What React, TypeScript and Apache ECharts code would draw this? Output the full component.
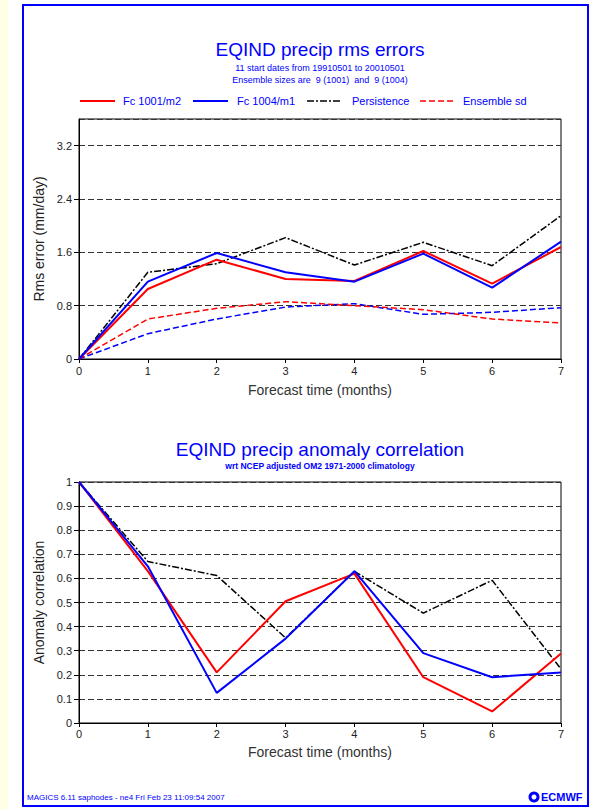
import React, { useEffect, useRef } from "react";
import * as echarts from "echarts";

const months = [0, 1, 2, 3, 4, 5, 6, 7];
const xTickLabels = ["0", "1", "2", "3", "4", "5", "6", "7"];

// Top chart: rms errors (mm/day)
const rmsFc1001 = [0, 1.05, 1.49, 1.2, 1.17, 1.62, 1.13, 1.68];
const rmsFc1004 = [0, 1.16, 1.59, 1.3, 1.16, 1.58, 1.07, 1.76];
const rmsPersistence = [0, 1.3, 1.43, 1.82, 1.41, 1.75, 1.4, 2.15];
const sd1001 = [0, 0.6, 0.76, 0.86, 0.8, 0.74, 0.6, 0.54];
const sd1004 = [0, 0.38, 0.6, 0.78, 0.83, 0.67, 0.7, 0.77];

// Bottom chart: anomaly correlation
const acc1001 = [1, 0.63, 0.21, 0.505, 0.62, 0.19, 0.048, 0.288];
const acc1004 = [1, 0.65, 0.125, 0.35, 0.63, 0.29, 0.19, 0.21];
const accPersistence = [1, 0.67, 0.612, 0.353, 0.629, 0.456, 0.592, 0.224];

const legendNames = ["Fc 1001/m2", "Fc 1004/m1", "Persistence", "Ensemble sd"];

const RED = "#ff0000";
const BLUE = "#0000ff";
const FONT = "Liberation Sans, Arial, sans-serif";

const pairs = (ys: number[]) => months.map((m, i) => [m, ys[i]]);

export default function App() {
  const ref = useRef<HTMLDivElement>(null);

  useEffect(() => {
    if (!ref.current) return;
    const chart = echarts.init(ref.current, undefined, { renderer: "svg" });

    const solid = (c: string) => ({ color: c, width: 2, type: "solid" as const });
    const dashed = (c: string) => ({ color: c, width: 1.5, type: [6, 3] });
    const dashDot = { color: "#000", width: 1.5, type: [7, 2, 2, 2] };

    const xAxisBase = (gridIndex: number, nameGap: number, labelMargin: number) => ({
      type: "value" as const,
      gridIndex,
      min: 0,
      max: 7,
      interval: 1,
      name: "Forecast time (months)",
      nameLocation: "middle" as const,
      nameGap,
      nameTextStyle: { color: "#333", fontSize: 14, fontFamily: FONT },
      axisLine: { show: true, lineStyle: { color: "#000", width: 1 } },
      axisTick: { show: true, length: 4, lineStyle: { color: "#000" } },
      axisLabel: {
        color: "#222",
        fontSize: 11,
        fontFamily: FONT,
        margin: labelMargin,
        formatter: (v: number) => xTickLabels[Math.round(v)] ?? String(v),
      },
      splitLine: { show: false },
    });

    const yAxisBase = (gridIndex: number) => ({
      type: "value" as const,
      gridIndex,
      nameLocation: "middle" as const,
      nameGap: 30,
      nameTextStyle: { color: "#222", fontSize: 14, fontFamily: FONT },
      axisLine: { show: true, lineStyle: { color: "#000", width: 1 } },
      axisTick: { show: true, length: 5, lineStyle: { color: "#000" } },
      axisLabel: { color: "#222", fontSize: 11, fontFamily: FONT, margin: 7 },
      splitLine: { show: true, lineStyle: { color: "#333", width: 1, type: [6, 3] } },
    });

    const legendItems = [
      { name: legendNames[0], style: solid(RED), x: 80, tx: 123 },
      { name: legendNames[1], style: solid(BLUE), x: 193, tx: 237 },
      { name: legendNames[2], style: dashDot, x: 307, tx: 352 },
      { name: legendNames[3], style: dashed(RED), x: 420, tx: 463 },
    ];

    const legendGraphics: any[] = [];
    legendItems.forEach((it) => {
      legendGraphics.push({
        type: "line",
        shape: { x1: it.x, y1: 101, x2: it.x + 35, y2: 101 },
        style: {
          stroke: it.style.color,
          lineWidth: it.style.width,
          lineDash: Array.isArray(it.style.type) ? it.style.type : null,
        },
      });
      legendGraphics.push({
        type: "text",
        x: it.tx,
        y: 101,
        style: {
          text: it.name,
          fill: BLUE,
          font: `11px ${FONT}`,
          textAlign: "left",
          textVerticalAlign: "middle",
        },
      });
    });

    const centerText = (text: string, y: number, size: number, weight = "normal") => ({
      type: "text",
      x: 320,
      y,
      style: {
        text,
        fill: BLUE,
        font: `${weight} ${size}px ${FONT}`,
        textAlign: "center",
        textVerticalAlign: "middle",
      },
    });

    chart.setOption({
      animation: false,
      backgroundColor: "#ffffff",
      graphic: [
        { type: "rect", shape: { x: 0, y: 0, width: 8, height: 809 }, style: { fill: "#ffffe6" } },
        {
          type: "rect",
          shape: { x: 23, y: 5, width: 565, height: 801 },
          style: { fill: "none", stroke: BLUE, lineWidth: 2 },
        },
        centerText("EQIND precip rms errors", 49, 19),
        centerText("11 start dates from 19910501 to 20010501", 68, 9),
        centerText("Ensemble sizes are  9 (1001)  and  9 (1004)", 80, 9),
        centerText("EQIND precip anomaly correlation", 449, 19),
        centerText("wrt NCEP adjusted OM2 1971-2000 climatology", 466, 8.5, "bold"),
        ...legendGraphics,
        {
          type: "text",
          x: 27,
          y: 797,
          style: {
            text: "MAGICS 6.11 saphodes - ne4 Fri Feb 23 11:09:54 2007",
            fill: BLUE,
            font: `8px ${FONT}`,
            textAlign: "left",
            textVerticalAlign: "middle",
          },
        },
        {
          type: "ring",
          shape: { cx: 534, cy: 797, r: 5.5, r0: 2.5 },
          style: { fill: BLUE },
        },
        {
          type: "text",
          x: 541,
          y: 797,
          style: {
            text: "ECMWF",
            fill: BLUE,
            font: `bold 11px ${FONT}`,
            textAlign: "left",
            textVerticalAlign: "middle",
          },
        },
      ],
      grid: [
        {
          left: 79,
          top: 119,
          width: 482,
          height: 240,
          show: true,
          borderColor: "#000",
          borderWidth: 1,
          backgroundColor: "transparent",
        },
        {
          left: 79,
          top: 482,
          width: 482,
          height: 241,
          show: true,
          borderColor: "#000",
          borderWidth: 1,
          backgroundColor: "transparent",
        },
      ],
      xAxis: [xAxisBase(0, 24, 6), xAxisBase(1, 22, 5)],
      yAxis: [
        {
          ...yAxisBase(0),
          name: "Rms error (mm/day)",
          min: 0,
          max: 3.6,
          interval: 0.8,
          axisLabel: {
            color: "#222",
            fontSize: 11,
            fontFamily: FONT,
            margin: 7,
            showMaxLabel: false,
          },
        },
        {
          ...yAxisBase(1),
          name: "Anomaly correlation",
          min: 0,
          max: 1,
          interval: 0.1,
          axisLabel: {
            color: "#222",
            fontSize: 11,
            fontFamily: FONT,
            margin: 7,
            formatter: (v: number) =>
              Math.abs(v) < 1e-9 ? "0" : Math.abs(v - 1) < 1e-9 ? "1" : v.toFixed(1),
          },
        },
      ],
      series: [
        { name: "Ensemble sd (1004)", type: "line", xAxisIndex: 0, yAxisIndex: 0, data: pairs(sd1004), showSymbol: false, symbol: "none", lineStyle: dashed(BLUE), z: 3 },
        { name: legendNames[3], type: "line", xAxisIndex: 0, yAxisIndex: 0, data: pairs(sd1001), showSymbol: false, symbol: "none", lineStyle: dashed(RED), z: 3 },
        { name: legendNames[2], type: "line", xAxisIndex: 0, yAxisIndex: 0, data: pairs(rmsPersistence), showSymbol: false, symbol: "none", lineStyle: dashDot, z: 3 },
        { name: legendNames[0], type: "line", xAxisIndex: 0, yAxisIndex: 0, data: pairs(rmsFc1001), showSymbol: false, symbol: "none", lineStyle: solid(RED), z: 4 },
        { name: legendNames[1], type: "line", xAxisIndex: 0, yAxisIndex: 0, data: pairs(rmsFc1004), showSymbol: false, symbol: "none", lineStyle: solid(BLUE), z: 4 },

        { name: legendNames[2] + " ", type: "line", xAxisIndex: 1, yAxisIndex: 1, data: pairs(accPersistence), showSymbol: false, symbol: "none", lineStyle: dashDot, z: 3 },
        { name: legendNames[0] + " ", type: "line", xAxisIndex: 1, yAxisIndex: 1, data: pairs(acc1001), showSymbol: false, symbol: "none", lineStyle: solid(RED), z: 4 },
        { name: legendNames[1] + " ", type: "line", xAxisIndex: 1, yAxisIndex: 1, data: pairs(acc1004), showSymbol: false, symbol: "none", lineStyle: solid(BLUE), z: 4 },
      ],
    });

    return () => chart.dispose();
  }, []);

  return (
    <div
      ref={ref}
      style={{ position: "absolute", left: 0, top: 0, width: 594, height: 809 }}
    />
  );
}
